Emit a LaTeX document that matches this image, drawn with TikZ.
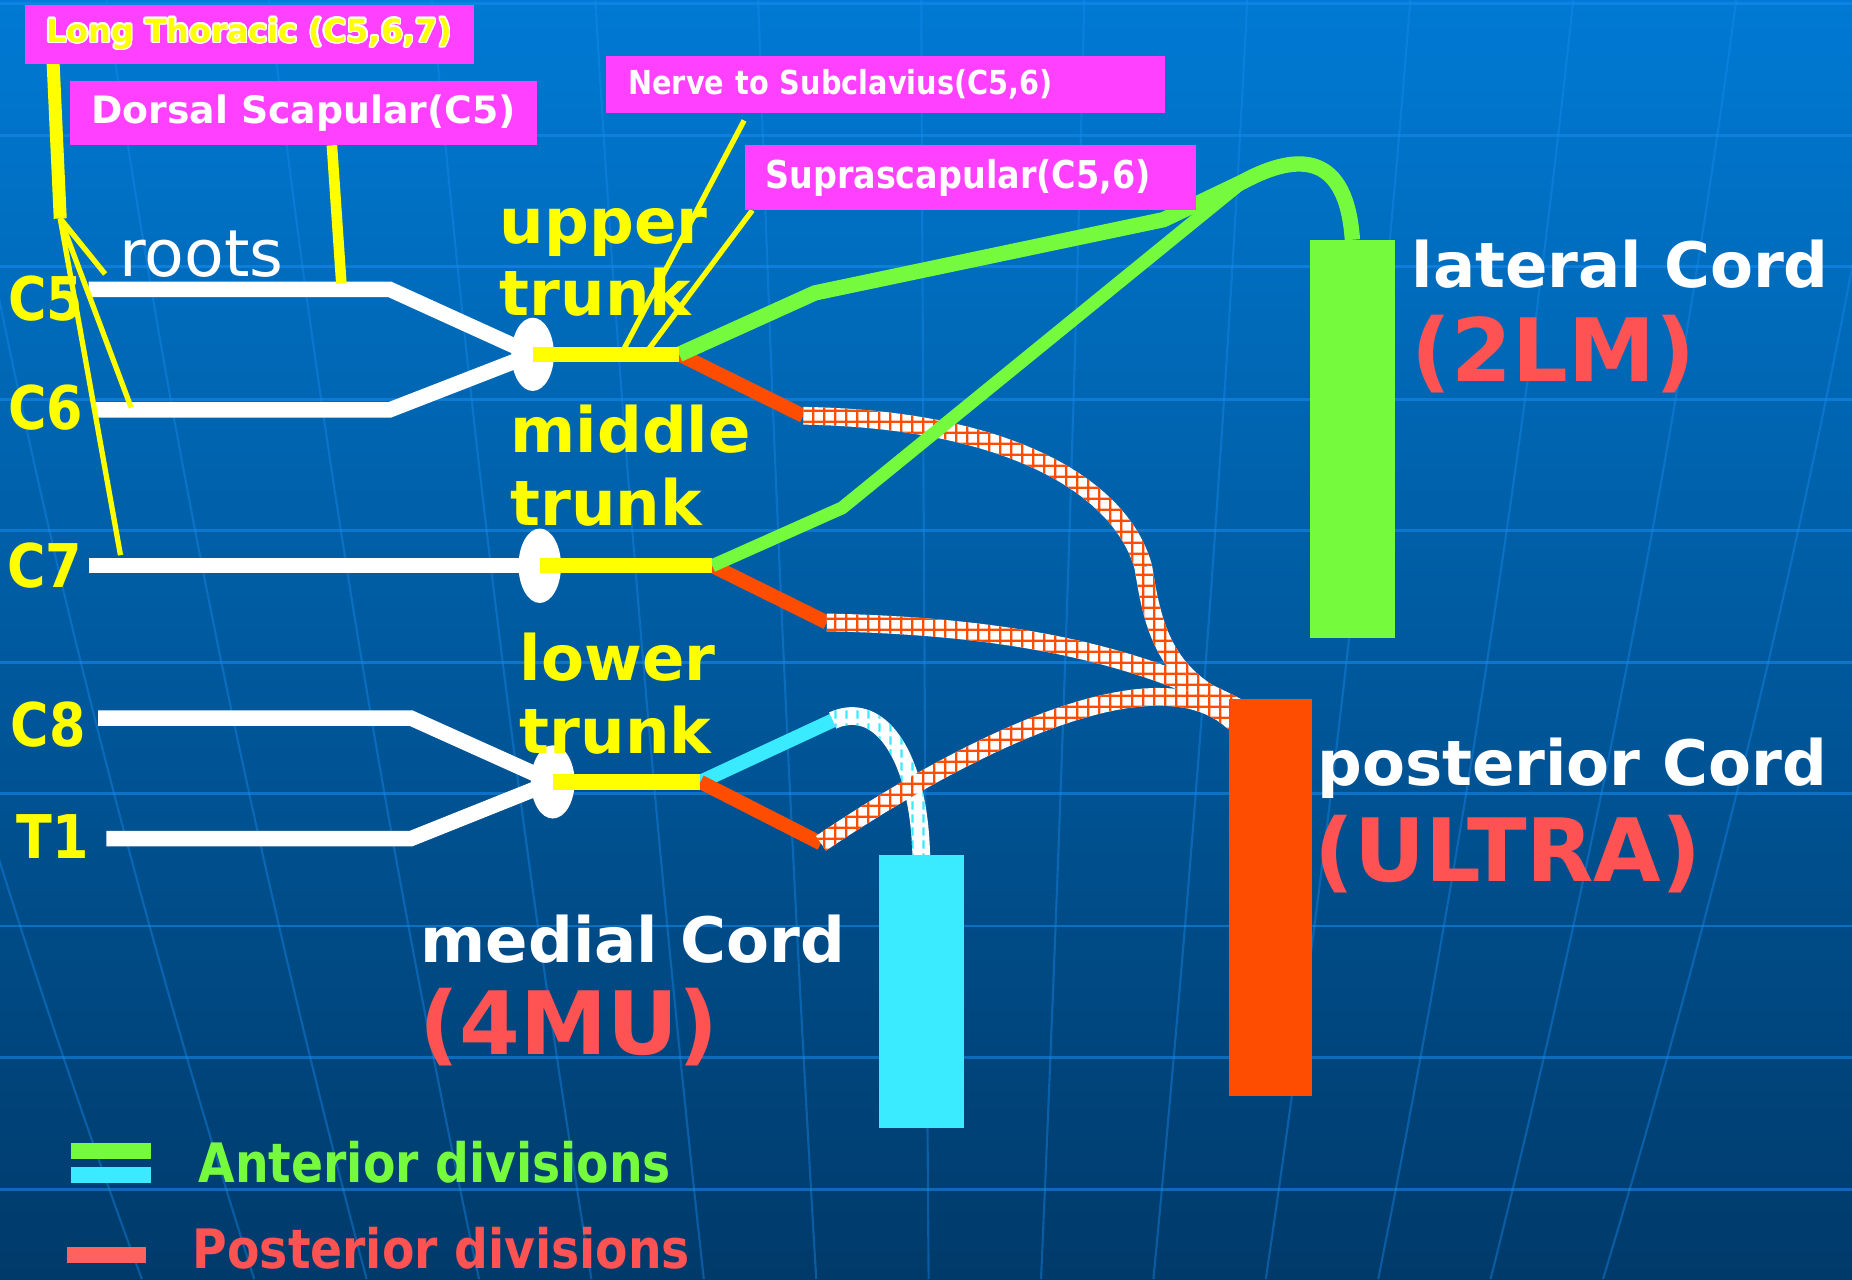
\documentclass[tikz,border=0pt]{standalone}
\usepackage{fontspec}
\setmainfont{DejaVu Sans}
\newfontfamily\tahoma[FakeStretch=0.87]{DejaVu Sans}
\usetikzlibrary{shapes.geometric,patterns}
\usepackage{contour}
\contourlength{1.2pt}

\definecolor{bgtop}{RGB}{0,122,212}
\definecolor{bgbot}{RGB}{0,58,106}
\definecolor{gridblue}{RGB}{25,140,240}
\definecolor{boxpink}{RGB}{255,64,255}
\definecolor{nerveyellow}{RGB}{255,255,0}
\definecolor{antgreen}{RGB}{118,250,62}
\definecolor{antcyan}{RGB}{58,235,255}
\definecolor{postorange}{RGB}{255,77,0}
\definecolor{codered}{RGB}{255,82,82}
\definecolor{legendred}{RGB}{255,98,92}

% square grid of the posterior bands, ticks of the medial band
\pgfdeclarepatternformonly{coarsegrid}{\pgfpointorigin}{\pgfpoint{9.3pt}{9.3pt}}{\pgfpoint{9.3pt}{9.3pt}}{%
  \pgfpathrectangle{\pgfpointorigin}{\pgfpoint{9.3pt}{2.1pt}}%
  \pgfpathrectangle{\pgfpointorigin}{\pgfpoint{2.1pt}{9.3pt}}%
  \pgfusepath{fill}}
\pgfdeclarepatternformonly{cyanticks}{\pgfpointorigin}{\pgfpoint{9.5pt}{11pt}}{\pgfpoint{9.5pt}{11pt}}{%
  \pgfpathrectangle{\pgfpoint{4pt}{2pt}}{\pgfpoint{1.9pt}{7pt}}%
  \pgfusepath{fill}}

% a band of half width \bandhw along a cubic curve
\def\bandhw{7.5}
\newcommand\grabxy[3]{\path #1; \pgfgetlastxy{#2}{#3}%
  \pgfmathsetmacro#2{#2}\pgfmathsetmacro#3{#3}}
\newcommand\bandseg[5]{%
  \grabxy{#2}{\xa}{\ya}\grabxy{#3}{\xb}{\yb}%
  \grabxy{#4}{\xc}{\yc}\grabxy{#5}{\xd}{\yd}%
  \path[#1] plot[variable=\q, domain=0:1, samples=40]
      ({bandx(\q,\bandhw)*1pt},{bandy(\q,\bandhw)*1pt})
    -- plot[variable=\q, domain=1:0, samples=40]
      ({bandx(\q,-\bandhw)*1pt},{bandy(\q,-\bandhw)*1pt}) -- cycle;}

\begin{document}
\begin{tikzpicture}[x=1pt, y=-1pt,
    declare function={
      bz(\q,\pa,\pb,\pc,\pd)=(1-\q)*(1-\q)*(1-\q)*\pa+3*(1-\q)*(1-\q)*\q*\pb
        +3*(1-\q)*\q*\q*\pc+\q*\q*\q*\pd;
      dbz(\q,\pa,\pb,\pc,\pd)=3*(1-\q)*(1-\q)*(\pb-\pa)+6*(1-\q)*\q*(\pc-\pb)
        +3*\q*\q*(\pd-\pc);
      bandx(\q,\hw)=bz(\q,\xa,\xb,\xc,\xd)-\hw*dbz(\q,\ya,\yb,\yc,\yd)
        /veclen(dbz(\q,\xa,\xb,\xc,\xd),dbz(\q,\ya,\yb,\yc,\yd));
      bandy(\q,\hw)=bz(\q,\ya,\yb,\yc,\yd)+\hw*dbz(\q,\xa,\xb,\xc,\xd)
        /veclen(dbz(\q,\xa,\xb,\xc,\xd),dbz(\q,\ya,\yb,\yc,\yd));},
    gridline/.style={gridblue, line width=2.5pt, opacity=0.55},
    meridian/.style={gridblue, line width=1.8pt, opacity=0.4},
    rootline/.style={white, line width=13pt},
    branch/.style={nerveyellow, line width=4.5pt},
    trunkbar/.style={nerveyellow, line width=13pt},
    antdiv/.style={antgreen, line width=13pt},
    postdiv/.style={postorange, line width=12pt},
    hatchfill/.style={fill=white, postaction={pattern=coarsegrid, pattern color=postorange}},
    tickfill/.style={fill=white, postaction={pattern=cyanticks, pattern color=antcyan}},
    knot/.style={ellipse, fill=white, inner sep=0pt, minimum width=36pt, minimum height=62pt},
    cord/.style={rectangle, inner sep=0pt, minimum width=72pt},
    namebox/.style={rectangle, fill=boxpink, inner sep=0pt, text=white},
    rootlab/.style={anchor=base west, inner sep=0pt, text=nerveyellow,
      font=\tahoma\bfseries\fontsize{51}{58}\selectfont},
    trunklab/.style={anchor=base west, inner sep=0pt, text=nerveyellow,
      font=\bfseries\fontsize{53}{60}\selectfont},
    cordlab/.style={anchor=base west, inner sep=0pt, text=white,
      font=\bfseries\fontsize{53}{60}\selectfont},
    codelab/.style={anchor=base west, inner sep=0pt, text=codered,
      font=\bfseries\fontsize{74}{82}\selectfont},
    legendlab/.style={anchor=base west, inner sep=0pt,
      font=\tahoma\bfseries\fontsize{46}{52}\selectfont}]

  \useasboundingbox (0,0) rectangle (1568,1083);
  \clip (0,0) rectangle (1568,1083);

  % Background with the globe grid
  \shade[top color=bgtop, bottom color=bgbot] (0,0) rectangle (1568,1083);
  \foreach \gy in {3,115,226,338,449,561,672,784,895,1007}
    \draw[gridline] (0,\gy) -- (1568,\gy);
  \foreach \k in {-7,...,6}
    \draw[meridian] plot[domain=0:1083, samples=25, smooth]
      ({800+(138*\k-20)*(1-\x/5000-0.08*(\x/1000)*(\x/1000))}, \x);

  % Points of the plexus
  \coordinate (c5s) at (75,245);  \coordinate (c5b) at (330,245);
  \coordinate (c6s) at (80,347);  \coordinate (c6b) at (330,347);
  \coordinate (c7s) at (75,479);
  \coordinate (c8s) at (83,608);  \coordinate (c8b) at (348,608);
  \coordinate (t1s) at (90,710);  \coordinate (t1b) at (348,710);
  \coordinate (up) at (451,300);  \coordinate (upend) at (575,300);
  \coordinate (mid) at (457,479); \coordinate (midend) at (603,479);
  \coordinate (low) at (468,662); \coordinate (lowend) at (593,662);
  \coordinate (ant1) at (690,248);
  \coordinate (ant2) at (985,186);
  \coordinate (ant3) at (713,430);
  \coordinate (latjoin) at (1052,154);
  \coordinate (lattop) at (1145,203);
  \coordinate (pu) at (680,352);
  \coordinate (pbend) at (968,480);
  \coordinate (pm) at (700,527);
  \coordinate (pl) at (695,714);
  \coordinate (pjoin) at (1050,600);
  \coordinate (pjoin2) at (1045,612);
  \coordinate (posttl) at (1040,592);
  \coordinate (mc) at (705,610);
  \coordinate (medtop) at (780,724);
  \coordinate (ltfoot) at (45,54);   \coordinate (ltfork) at (51,185);
  \coordinate (c5hit) at (89,232);   \coordinate (c6hit) at (111,345);
  \coordinate (c7hit) at (102,470);
  \coordinate (dsfoot) at (281,123); \coordinate (dshit) at (289,240);
  \coordinate (nsfoot) at (630,102); \coordinate (nshit) at (528,296);
  \coordinate (ssfoot) at (637,178); \coordinate (sshit) at (549,296);

  % Roots
  \draw[rootline] (c5s) -- (c5b) -- (up);
  \draw[rootline] (c6s) -- (c6b) -- (up);
  \draw[rootline] (c7s) -- (mid);
  \draw[rootline] (c8s) -- (c8b) -- (low);
  \draw[rootline] (t1s) -- (t1b) -- (low);

  % Long thoracic and dorsal scapular
  \draw[nerveyellow, line width=11pt] (ltfoot) -- (ltfork);
  \draw[branch] (ltfork) -- (c5hit);
  \draw[branch] (ltfork) -- (c6hit);
  \draw[branch] (ltfork) -- (c7hit);
  \draw[nerveyellow, line width=9pt] (dsfoot) -- (dshit);

  % Trunks
  \node[knot] (upk) at (up) {};
  \node[knot, minimum height=63pt] (midk) at (mid) {};
  \node[knot, minimum width=37pt] (lowk) at (low) {};

  % Medial cord branch
  \draw[antcyan, line width=12pt] (lowend) -- (mc);
  \bandseg{tickfill}{(mc)}{(745,592)}{(778,640)}{(medtop)}

  % Posterior divisions
  \draw[postdiv] (upend) -- (pu);
  \draw[postdiv] (midend) -- (pm);
  \draw[postdiv] (lowend) -- (pl);
  \bandseg{hatchfill}{(pu)}{(860,355)}{(950,415)}{(pbend)}
  \bandseg{hatchfill}{(pbend)}{(976,530)}{(985,575)}{(pjoin)}
  \bandseg{hatchfill}{(pm)}{(850,530)}{(960,552)}{(pjoin)}
  \bandseg{hatchfill}{(pl)}{(820,630)}{(980,550)}{(pjoin2)}

  % Anterior divisions
  \draw[antdiv] (upend) -- (ant1) -- (ant2) -- (latjoin)
    .. controls (1100,128) and (1140,130) .. (lattop);
  \draw[antdiv, line width=11pt] (midend) -- (ant3) -- (latjoin);

  \draw[trunkbar] (up) -- (upend);
  \draw[trunkbar] (mid) -- (midend);
  \draw[trunkbar] (low) -- (lowend);

  % Nerve to subclavius and suprascapular
  \draw[branch] (nsfoot) -- (nshit);
  \draw[branch] (ssfoot) -- (sshit);

  % Cords
  \node[cord, anchor=north, fill=antgreen, minimum height=337pt] (lat) at (lattop) {};
  \node[cord, anchor=north west, fill=postorange, minimum width=71pt,
    minimum height=336pt] (post) at (posttl) {};
  \node[cord, anchor=north, fill=antcyan, minimum height=231pt] (med) at (medtop) {};

  % Labels
  \node[rootlab] (c5lab) at (7,271) {C5};
  \node[rootlab] (c6lab) at (7,364) {C6};
  \node[rootlab] (c7lab) at (6,497) {C7};
  \node[rootlab] (c8lab) at (9,632) {C8};
  \node[rootlab] (t1lab) at (14,727) {T1};
  \node[anchor=base west, inner sep=0pt, text=white,
    font=\fontsize{55}{62}\selectfont] (rootslab) at (101,234) {roots};

  \node[trunklab] (uplab1) at (423,206) {upper};
  \node[trunklab] (uplab2) at (423,267) {trunk};
  \node[trunklab] (midlab1) at (432,383) {middle};
  \node[trunklab] (midlab2) at (432,445) {trunk};
  \node[trunklab] (lowlab1) at (440,576) {lower};
  \node[trunklab] (lowlab2) at (440,638) {trunk};

  \node[cordlab] (latlab) at (1195,243) {lateral Cord};
  \node[codelab] (latcode) at (1195,323) {(2LM)};
  \node[cordlab] (postlab) at (1115,665) {posterior Cord};
  \node[codelab] (postcode) at (1113,746) {(ULTRA)};
  \node[cordlab] (medlab) at (356,815) {medial Cord};
  \node[codelab] (medcode) at (355,893) {(4MU)};

  % Branch boxes
  \node[namebox, minimum width=380pt, minimum height=50pt, text=nerveyellow,
    font=\bfseries\fontsize{27}{32}\selectfont] (lt) at (211,29)
    {\contour{white}{Long Thoracic (C5,6,7)}};
  \node[namebox, minimum width=396pt, minimum height=54pt,
    font=\bfseries\fontsize{32}{38}\selectfont] (ds) at (257,96)
    {Dorsal Scapular(C5)};
  \node[namebox, text width=435pt, align=left, inner xsep=19pt, minimum height=49pt,
    font=\tahoma\bfseries\fontsize{28}{34}\selectfont] (ns) at (749.5,71.5)
    {Nerve to Subclavius(C5,6)};
  \node[namebox, text width=348pt, align=left, inner xsep=17pt, minimum height=55pt,
    font=\tahoma\bfseries\fontsize{32.5}{38}\selectfont] (ss) at (822,150.5)
    {Suprascapular(C5,6)};

  % Legend
  \fill[antgreen] (60,968) rectangle (128,981);
  \fill[antcyan] (60,988) rectangle (128,1002);
  \fill[legendred] (57,1056) rectangle (124,1069);
  \node[legendlab, text=antgreen] (antlab) at (168,1001) {Anterior divisions};
  \node[legendlab, text=codered] (postleg) at (163,1074) {Posterior divisions};
\end{tikzpicture}
\end{document}
